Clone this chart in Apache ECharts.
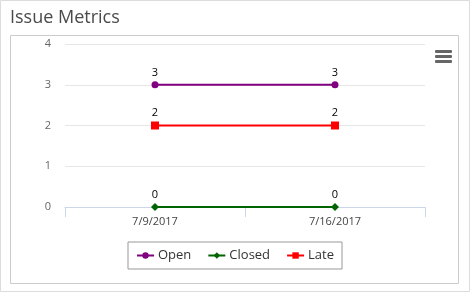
<!DOCTYPE html>
<html><head><meta charset="utf-8">
<script src="https://cdn.jsdelivr.net/npm/echarts@6/dist/echarts.min.js"></script>
<style>html,body{margin:0;padding:0;background:#fff}#c{width:471px;height:293px}</style>
</head><body><div id="c"></div>
<script>
const categories = ['7/9/2017', '7/16/2017'];
const openValues = [3, 3];
const closedValues = [0, 0];
const lateValues = [2, 2];
const yTicks = [0, 1, 2, 3, 4];

const chart = echarts.init(document.getElementById('c'));
const font = '"Open Sans", "Noto Sans", sans-serif';
function mk(name, data, color, symbol, size) {
  return {
    name, type: 'line', data, symbol, symbolSize: size,
    itemStyle: { color }, lineStyle: { color, width: 2 },
    label: { show: true, position: 'top', color: '#000', fontSize: 11, fontFamily: font, distance: 3 },
    emphasis: { disabled: true }
  };
}
chart.setOption({
  animation: false,
  textStyle: { fontFamily: font },
  graphic: [
    { type: 'rect', shape: { x: 0.5, y: 0.5, width: 469, height: 291 }, style: { fill: 'none', stroke: '#dcdcdc', lineWidth: 1 }, z: -1 },
    { type: 'rect', shape: { x: 10.5, y: 35.5, width: 448, height: 248 }, style: { fill: 'none', stroke: '#cccccc', lineWidth: 1 }, z: -1 },
    { type: 'text', left: 10, top: 9, style: { text: 'Issue Metrics', fontSize: 18, fontFamily: font, fill: '#4a4a4a' } },
    { type: 'rect', shape: { x: 435, y: 50, width: 17, height: 3, r: 1 }, style: { fill: '#666' } },
    { type: 'rect', shape: { x: 435, y: 55, width: 17, height: 3, r: 1 }, style: { fill: '#666' } },
    { type: 'rect', shape: { x: 435, y: 60, width: 17, height: 3, r: 1 }, style: { fill: '#666' } }
  ],
  grid: { left: 65, right: 46, top: 44, bottom: 86 },
  xAxis: {
    type: 'category', data: categories, boundaryGap: true,
    axisLine: { lineStyle: { color: '#ccd6eb' } },
    axisTick: { show: true, length: 10, lineStyle: { color: '#ccd6eb' } },
    axisLabel: { color: '#444', fontSize: 11, fontFamily: font, margin: 9 }
  },
  yAxis: {
    type: 'value', min: yTicks[0], max: yTicks[yTicks.length - 1], interval: 1,
    axisLine: { show: false }, axisTick: { show: false },
    axisLabel: { color: '#666', fontSize: 11, fontFamily: font, margin: 14 },
    splitLine: { lineStyle: { color: '#e6e6e6' } }
  },
  legend: {
    left: 128, top: 242,
    data: ['Open', 'Closed', 'Late'],
    borderColor: '#999', borderWidth: 1, borderRadius: 0,
    padding: [7, 8, 7, 8], itemGap: 16, itemWidth: 17, itemHeight: 8,
    textStyle: { color: '#333', fontSize: 13, fontFamily: font, padding: [0, 0, 0, -1] }
  },
  series: [
    mk('Open', openValues, '#800080', 'circle', 7),
    mk('Closed', closedValues, '#006400', 'diamond', 8),
    mk('Late', lateValues, '#ff0000', 'rect', 8)
  ]
});
</script></body></html>
